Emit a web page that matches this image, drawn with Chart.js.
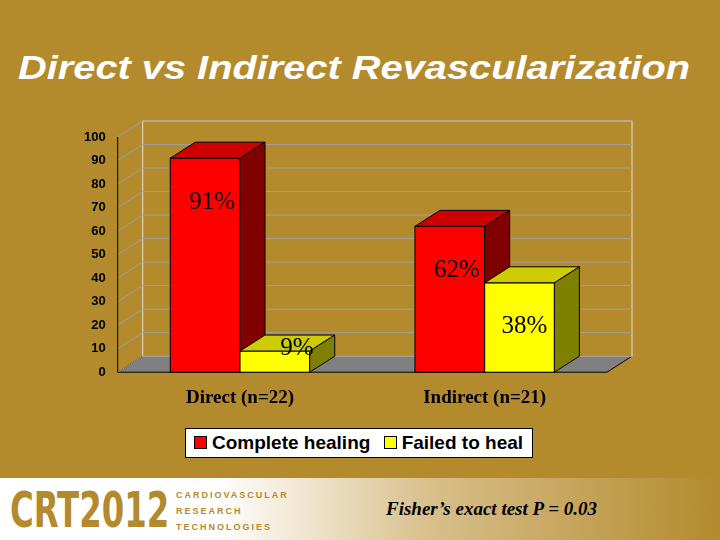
<!DOCTYPE html>
<html><head><meta charset="utf-8">
<script src="https://cdn.jsdelivr.net/npm/chart.js@4"></script>
<style>
body{margin:0;width:720px;height:540px;background:#B38A2C;position:relative;overflow:hidden;font-family:"Liberation Sans",Arial,sans-serif}
#title{position:absolute;left:18px;top:48px;color:#fff;font-style:italic;font-weight:bold;font-size:34px;transform:scaleX(1.17);transform-origin:0 0;white-space:nowrap}
#wrap{position:absolute;left:0;top:0;width:720px;height:470px}
#legend{position:absolute;left:185px;top:428px;width:346px;height:28px;background:#fff;border:1px solid #000;font-weight:bold;font-size:19px;line-height:28px;white-space:nowrap}
.sw{display:inline-block;width:11px;height:11px;border:1px solid #000;margin:0 5px 0 8px}
#footer{position:absolute;left:0;top:478px;width:720px;height:62px;background:linear-gradient(90deg,#fff 0%,#fff 30%,#f3ead8 40%,#d8bf8a 60%,#b38a2c 100%)}
#crt{position:absolute;left:10px;top:5px;font-family:"DejaVu Sans Condensed","Liberation Sans Narrow",sans-serif;font-weight:bold;font-size:50px;color:#B38A2C;line-height:54px;transform:scaleX(0.72);transform-origin:0 0}
#sub{position:absolute;left:176px;top:9px;font-size:9px;letter-spacing:2px;color:#B38A2C;font-weight:bold;line-height:16px}
#fisher{position:absolute;left:386px;top:20px;font-family:"Liberation Serif",serif;font-style:italic;font-weight:bold;font-size:19px;white-space:nowrap}
</style></head><body>
<div id="title">Direct vs Indirect Revascularization</div>
<div id="wrap"><canvas id="c" width="720" height="470"></canvas></div>
<div id="legend"><span class="sw" style="background:#f00"></span>Complete healing <span class="sw" style="background:#ff0"></span>Failed to heal</div>
<div id="footer"><div id="crt">CRT2012</div><div id="sub">CARDIOVASCULAR<br>RESEARCH<br>TECHNOLOGIES</div><div id="fisher">Fisher’s exact test P = 0.03</div></div>
<script>
const categories=["Direct (n=22)","Indirect (n=21)"];
const complete=[91,62];
const failed=[9,38];
const seriesNames=["Complete healing","Failed to heal"];
const DX=25,DY=16;
const faces=[["#FF0000","#CC0000","#800000"],["#FFFF00","#CCCC00","#808000"]];
const plugin={id:'td',
beforeDatasetsDraw(ch){
 const c=ch.ctx,a=ch.chartArea,y=ch.scales.y;
 c.save();
 c.fillStyle="#808080";c.strokeStyle="#000";c.lineWidth=1;
 c.beginPath();c.moveTo(a.left,a.bottom);c.lineTo(a.right,a.bottom);c.lineTo(a.right+DX,a.bottom-DY);c.lineTo(a.left+DX,a.bottom-DY);c.closePath();c.fill();c.stroke();
 c.strokeStyle="#E8E0D0";
 c.strokeRect(a.left+DX,a.top-DY,a.right-a.left,a.bottom-a.top);
 c.strokeStyle="#A0A0A0";
 for(let v=0;v<=100;v+=10){const p=y.getPixelForValue(v);
  c.beginPath();c.moveTo(a.left,p);c.lineTo(a.left+DX,p-DY);c.lineTo(a.right+DX,p-DY);c.stroke();}
 c.strokeStyle="#000";c.beginPath();c.moveTo(a.left,a.top);c.lineTo(a.left,a.bottom);c.stroke();
 c.restore();
},
afterDatasetsDraw(ch){
 const c=ch.ctx;c.save();c.strokeStyle="#000";c.lineWidth=1;
 for(let i=0;i<categories.length;i++){
  for(let d=0;d<2;d++){
   const b=ch.getDatasetMeta(d).data[i];const w=b.width;const l=b.x-w/2,r=b.x+w/2,t=b.y,bt=b.base;
   const f=faces[d];
   c.fillStyle=f[0];c.fillRect(l,t,w,bt-t);c.strokeRect(l,t,w,bt-t);
   c.fillStyle=f[1];c.beginPath();c.moveTo(l,t);c.lineTo(l+DX,t-DY);c.lineTo(r+DX,t-DY);c.lineTo(r,t);c.closePath();c.fill();c.stroke();
   c.fillStyle=f[2];c.beginPath();c.moveTo(r,t);c.lineTo(r+DX,t-DY);c.lineTo(r+DX,bt-DY);c.lineTo(r,bt);c.closePath();c.fill();c.stroke();
  }
  for(let d=0;d<2;d++){
   const b=ch.getDatasetMeta(d).data[i];const val=ch.data.datasets[d].data[i];
   c.fillStyle="#000";c.font="25px 'Liberation Serif',serif";c.textAlign="center";c.textBaseline="middle";
   const yy=Math.min(b.y+44,b.base-24);
   c.fillText(val+"%",b.x+(d?(val<20?22:5):7),yy);
  }
 }
 c.restore();
}};
new Chart(document.getElementById('c'),{type:'bar',
 data:{labels:categories,datasets:[
  {label:seriesNames[0],data:complete,backgroundColor:'rgba(0,0,0,0)',categoryPercentage:0.57,barPercentage:1},
  {label:seriesNames[1],data:failed,backgroundColor:'rgba(0,0,0,0)',categoryPercentage:0.57,barPercentage:1}]},
 options:{responsive:false,animation:false,devicePixelRatio:1,
  layout:{padding:{left:80,right:113,top:137,bottom:55}},
  plugins:{legend:{display:false},tooltip:{enabled:false}},
  scales:{
   x:{grid:{display:false},border:{display:false},
      ticks:{color:'#000',font:{family:"'Liberation Serif',serif",size:19,weight:'bold'},padding:6}},
   y:{min:0,max:100,grid:{display:false},border:{display:false},
      ticks:{stepSize:10,color:'#000',font:{family:"'Liberation Sans',Arial",size:13,weight:'bold'},padding:4}}}},
 plugins:[plugin]});
</script>
</body></html>
